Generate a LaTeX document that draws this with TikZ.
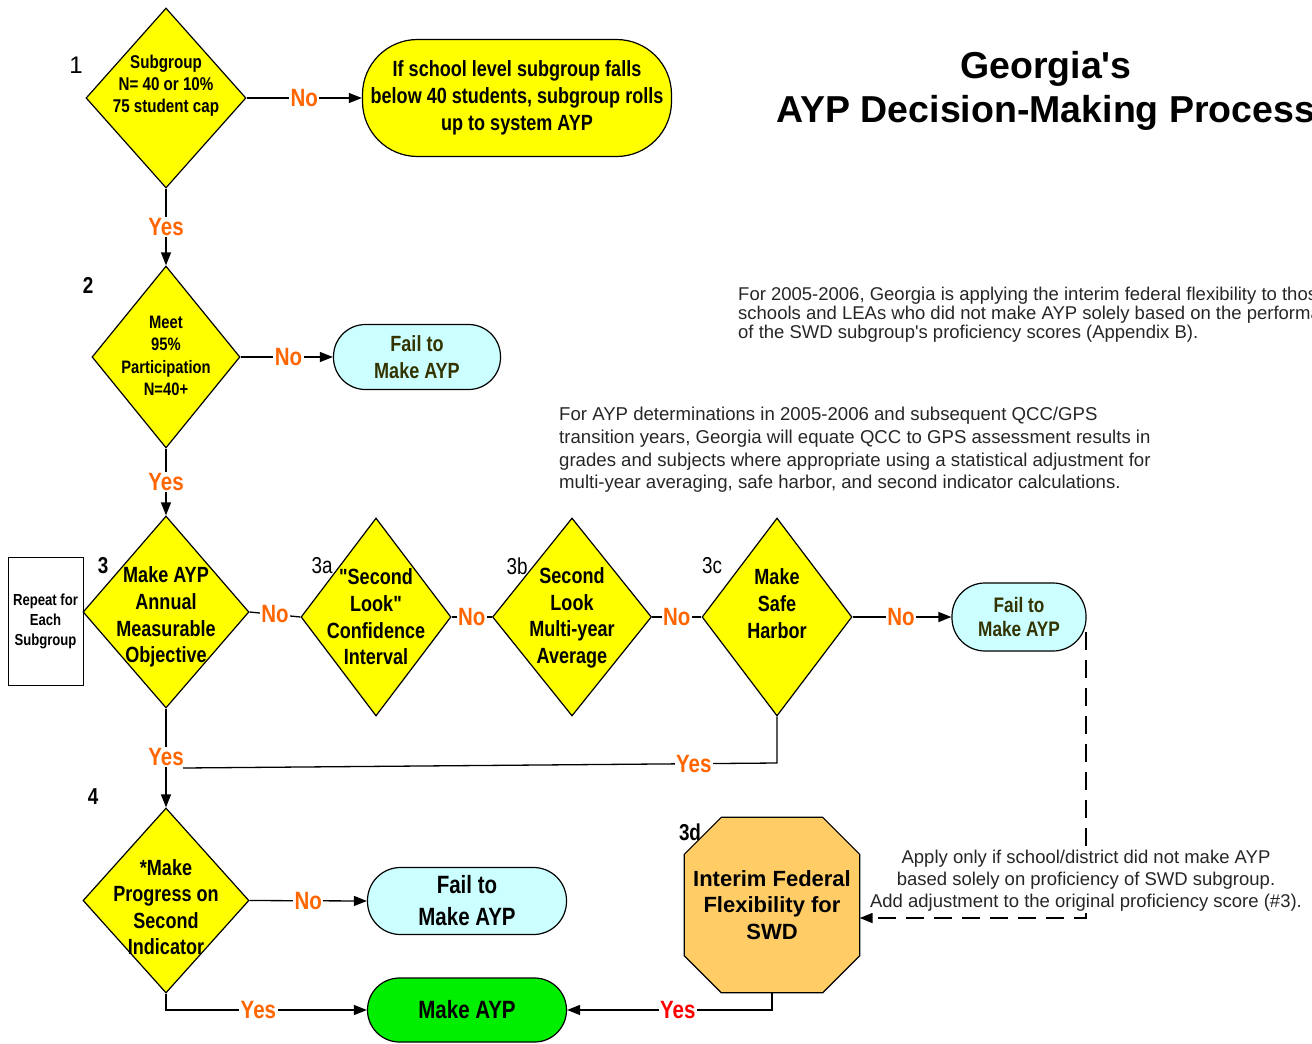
\documentclass[tikz,border=0pt]{standalone}
\usepackage{fontspec}
\setmainfont{Liberation Sans}
\newfontfamily\nar{Liberation Sans}[FakeStretch=0.82]
\usetikzlibrary{shapes.geometric,arrows.meta}
\definecolor{ayel}{HTML}{FFFF00}
\definecolor{acyan}{HTML}{CCFFFF}
\definecolor{agreen}{HTML}{00EE00}
\definecolor{aorange}{HTML}{FFCC66}
\definecolor{lab}{HTML}{FF6600}
\definecolor{dtx}{HTML}{333300}
\begin{document}
\begin{tikzpicture}[x=1pt,y=-1pt,
  dec/.style={diamond,draw=black,fill=ayel,line width=1.2pt,inner sep=0pt,aspect=1},
  term/.style={rectangle,draw=black,line width=1.2pt,inner sep=0pt},
  dtext/.style={align=center,inner sep=0pt,font=\nar\bfseries},
  yn/.style={font=\nar\bfseries\fontsize{25}{25}\selectfont,text=lab,fill=white,inner sep=1.5pt},
  num/.style={font=\fontsize{24}{24}\selectfont,text=black,inner sep=0pt},
  numn/.style={font=\nar\fontsize{23}{23}\selectfont,inner sep=0pt},
  numb/.style={font=\nar\bfseries\fontsize{23}{23}\selectfont,inner sep=0pt},
  conn/.style={line width=1.3pt,draw=black},
  arr/.style={conn,-{Triangle[length=13pt,width=10pt]}},
  note/.style={inner sep=0pt,text=black!85}
]
\useasboundingbox (0,0) rectangle (1312,1044);
\clip (0,0) rectangle (1312,1044);

% title
\node[align=center,font=\bfseries\fontsize{37.5}{44}\selectfont] (title) at (1046,91)
  {Georgia\textquotesingle s\\AYP Decision-Making Process};

% diamonds
\node[dec,minimum width=160pt,minimum height=180pt] (d1) at (166,98) {};
\node[dec,minimum width=148pt,minimum height=182pt] (d2) at (166,357) {};
\node[dec,minimum width=166pt,minimum height=192pt] (d3) at (166,612) {};
\node[dec,minimum width=150pt,minimum height=198pt] (d3a) at (376,617) {};
\node[dec,minimum width=159pt,minimum height=198pt] (d3b) at (572,617) {};
\node[dec,minimum width=150pt,minimum height=198pt] (d3c) at (777,617) {};
\node[dec,minimum width=166pt,minimum height=185pt] (d4) at (166,900.5) {};

\node[dtext,font=\nar\bfseries\fontsize{18.5}{22}\selectfont] (t1) at (166,86)
  {Subgroup\\N= 40 or 10\%\\75 student cap};
\node[dtext,font=\nar\bfseries\fontsize{18}{22.5}\selectfont] (t2) at (166,356)
  {Meet\\95\%\\Participation\\N=40+};
\node[dtext,font=\nar\bfseries\fontsize{22}{26.7}\selectfont] (t3) at (166,617)
  {Make AYP\\Annual\\Measurable\\Objective};
\node[dtext,font=\nar\bfseries\fontsize{22}{26.7}\selectfont] (t3a) at (376,617)
  {"Second\\Look"\\Confidence\\Interval};
\node[dtext,font=\nar\bfseries\fontsize{22}{26.7}\selectfont] (t3b) at (572,618)
  {Second\\Look\\Multi-year\\Average};
\node[dtext,font=\nar\bfseries\fontsize{22}{27}\selectfont] (t3c) at (777,604)
  {Make\\Safe\\Harbor};
\node[dtext,font=\nar\bfseries\fontsize{22}{26.5}\selectfont] (t4) at (166,907)
  {*Make\\Progress on\\Second\\Indicator};

% terminal boxes
\node[term,fill=ayel,rounded corners=55pt,minimum width=309pt,minimum height=117pt,
  align=center,font=\nar\bfseries\fontsize{22}{27}\selectfont] (b1) at (517,98)
  {If school level subgroup falls\\below 40 students, subgroup rolls\\up to system AYP};
\node[term,fill=acyan,rounded corners=32pt,minimum width=167pt,minimum height=65pt,
  align=center,text=dtx,font=\nar\bfseries\fontsize{22}{27}\selectfont] (f2) at (417,357)
  {Fail to\\Make AYP};
\node[term,fill=acyan,rounded corners=33pt,minimum width=134pt,minimum height=68pt,
  align=center,text=dtx,font=\nar\bfseries\fontsize{21}{24}\selectfont] (f3c) at (1019,617)
  {Fail to\\Make AYP};
\node[term,fill=acyan,rounded corners=33pt,minimum width=199pt,minimum height=67pt,
  align=center,text=black,font=\nar\bfseries\fontsize{25}{32}\selectfont] (f4) at (467,901)
  {Fail to\\Make AYP};
\node[term,fill=agreen,rounded corners=32pt,minimum width=199pt,minimum height=64pt,
  align=center,font=\nar\bfseries\fontsize{25}{30}\selectfont] (mk) at (467,1010)
  {Make AYP};

% octagon
\node[rectangle,inner sep=0pt,minimum width=175pt,minimum height=175pt] (oct) at (772,905) {};
\draw[fill=aorange,line width=1.2pt]
  ([xshift=37pt]oct.north west) -- ([xshift=-37pt]oct.north east)
  -- ([yshift=-37pt]oct.north east) -- ([yshift=37pt]oct.south east)
  -- ([xshift=-37pt]oct.south east) -- ([xshift=37pt]oct.south west)
  -- ([yshift=37pt]oct.south west) -- ([yshift=-37pt]oct.north west) -- cycle;
\node[align=center,inner sep=0pt,font=\bfseries\fontsize{22}{26.5}\selectfont] (toct) at (772,905)
  {Interim Federal\\Flexibility for\\SWD};

% repeat box
\node[draw=black,line width=0.8pt,minimum width=75pt,minimum height=128pt,inner sep=0pt,
  align=center,font=\nar\bfseries\fontsize{16}{20}\selectfont] (rep) at (45.5,621)
  {Repeat for\\Each\\Subgroup};

% step numbers
\node[num] (n1) at (76,65) {1};
\node[numb] (n2) at (88,285) {2};
\node[numb] (n3) at (103,566) {3};
\node[numn] (n3a) at (322,566) {3a};
\node[numn] (n3b) at (517,566) {3b};
\node[numn] (n3c) at (712,566) {3c};
\node[numb] (n4) at (93,797) {4};
\node[numb] (n3d) at (690,832) {3d};

% connectors
\draw[arr] (d1.east) -- node[yn,pos=0.5]{No} (b1.west);
\draw[arr] (d1.south) -- node[yn,pos=0.5]{Yes} (d2.north);
\draw[arr] (d2.east) -- node[yn,pos=0.52]{No} (f2.west);
\draw[arr] (d2.south) -- node[yn,pos=0.5]{Yes} (d3.north);
\draw[conn] (d3.east) -- node[yn,pos=0.5]{No} (d3a.west);
\draw[conn] (d3a.east) -- node[yn,pos=0.5]{No} (d3b.west);
\draw[conn] (d3b.east) -- node[yn,pos=0.5]{No} (d3c.west);
\draw[arr] (d3c.east) -- node[yn,pos=0.49]{No} (f3c.west);
\draw[arr] (d3.south) -- node[yn,pos=0.49]{Yes} (d4.north);
\coordinate (yj) at (183,768);
\coordinate (yc) at (777,763);
\draw[conn] (d3c.south) -- (yc) -- node[yn,pos=0.14]{Yes} (yj);
\draw[arr] (d4.east) -- node[yn,pos=0.5]{No} (f4.west);
\draw[arr] (d4.south) |- node[yn,pos=0.73]{Yes} (mk.west);
\draw[arr] (oct.south) |- node[yn,pos=0.73,text=red]{Yes} (mk.east);
\coordinate (ds) at (1086,632);
\coordinate (dc) at (1086,918);
\draw[line width=1.8pt,dash pattern=on 18pt off 10pt,-{Triangle[length=13pt,width=10pt]}]
  (ds) -- (dc) -- (oct.east |- dc);

% notes
\node[note,anchor=west,align=left,font=\fontsize{18.5}{19}\selectfont] (a1) at (738,315)
  {For 2005-2006, Georgia is applying the interim federal flexibility to those\\
   schools and LEAs who did not make AYP solely based on the performance\\
   of the SWD subgroup\textquotesingle s proficiency scores (Appendix B).};
\node[note,anchor=west,align=left,font=\fontsize{18.6}{22.7}\selectfont] (a2) at (559,450)
  {For AYP determinations in 2005-2006 and subsequent QCC/GPS\\
   transition years, Georgia will equate QCC to GPS assessment results in\\
   grades and subjects where appropriate using a statistical adjustment for\\
   multi-year averaging, safe harbor, and second indicator calculations.};
\node[note,align=center,fill=white,inner sep=1pt,font=\fontsize{18.5}{22}\selectfont] (a3) at (1086,881)
  {Apply only if school/district did not make AYP\\
   based solely on proficiency of SWD subgroup.\\
   Add adjustment to the original proficiency score (\#3).};
\end{tikzpicture}
\end{document}
